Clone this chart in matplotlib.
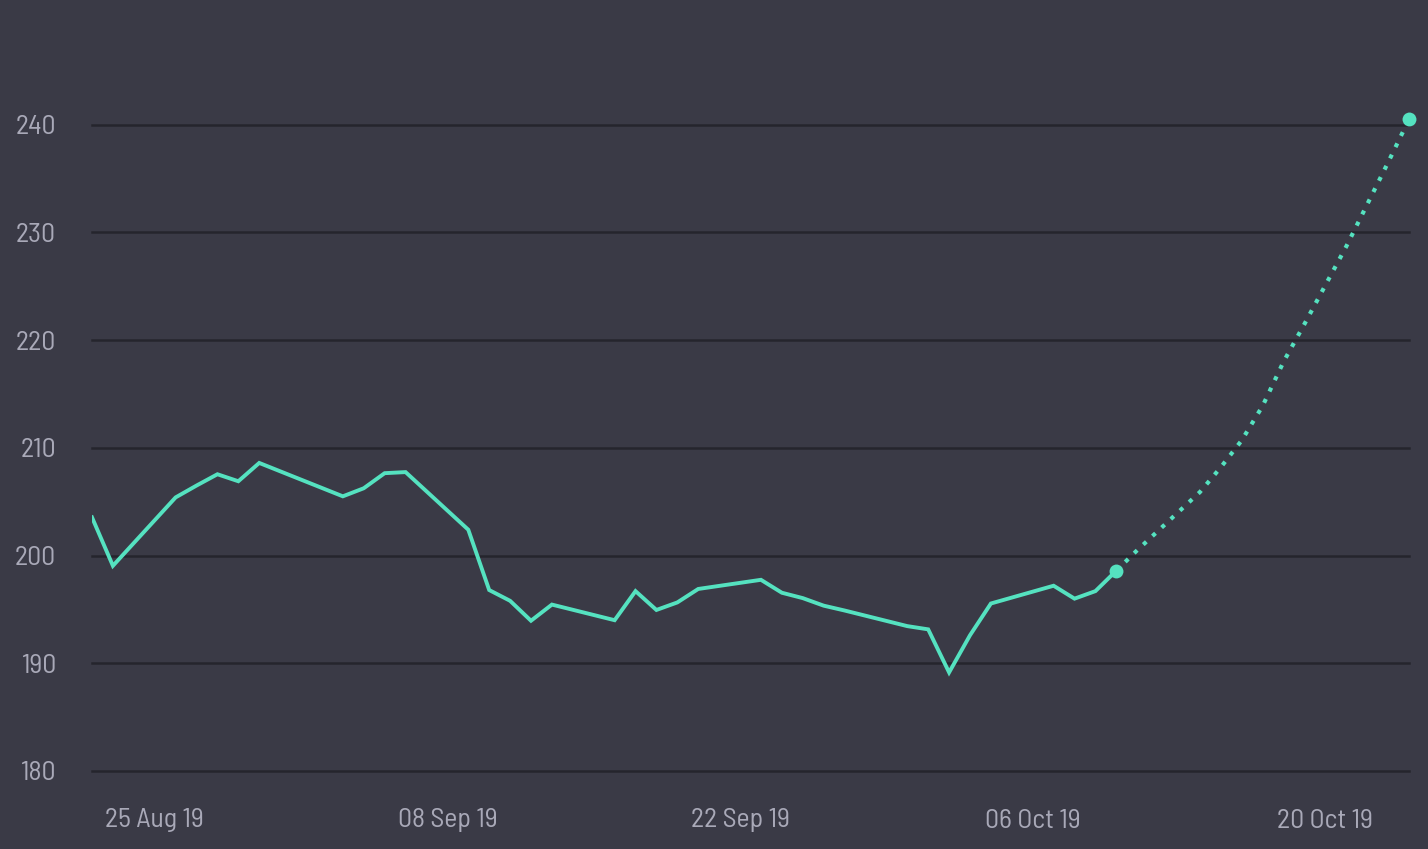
import matplotlib
matplotlib.use("Agg")
import matplotlib.pyplot as plt
import matplotlib.dates as mdates
from matplotlib import font_manager
import pandas as pd

# ---- data ----
hist_dates = ["2019-08-22", "2019-08-23", "2019-08-26", "2019-08-27", "2019-08-28",
              "2019-08-29", "2019-08-30", "2019-09-03", "2019-09-04", "2019-09-05",
              "2019-09-06", "2019-09-09", "2019-09-10", "2019-09-11", "2019-09-12",
              "2019-09-13", "2019-09-16", "2019-09-17", "2019-09-18", "2019-09-19",
              "2019-09-20", "2019-09-23", "2019-09-24", "2019-09-25", "2019-09-26",
              "2019-09-27", "2019-09-30", "2019-10-01", "2019-10-02", "2019-10-03",
              "2019-10-04", "2019-10-07", "2019-10-08", "2019-10-09", "2019-10-10"]
hist_values = [203.55, 199.05, 205.4, 206.5, 207.55,
               206.9, 208.6, 205.5, 206.25, 207.65,
               207.75, 202.4, 196.8, 195.8, 193.95,
               195.45, 194.0, 196.7, 194.95, 195.65,
               196.9, 197.75, 196.55, 196.05, 195.35,
               194.9, 193.45, 193.15, 189.15, 192.6,
               195.55, 197.2, 196.0, 196.7, 198.6]

fc_dates = ["2019-10-10", "2019-10-11", "2019-10-12", "2019-10-13", "2019-10-14",
            "2019-10-15", "2019-10-16", "2019-10-17", "2019-10-18", "2019-10-19",
            "2019-10-20", "2019-10-21", "2019-10-22", "2019-10-23", "2019-10-24"]
fc_values = [198.6, 200.5, 202.3, 204.1, 205.9,
             208.2, 210.7, 213.9, 218.0, 221.5,
             225.1, 228.7, 232.6, 236.5, 240.5]

y_ticks = [180, 190, 200, 210, 220, 230, 240]
x_ticks = ["2019-08-25", "2019-09-08", "2019-09-22", "2019-10-06", "2019-10-20"]

# ---- style ----
BG = "#3a3a46"
GRID = "#25252d"
LINE = "#55e2c0"
TXT = "#a9a9b8"

names = {f.name for f in font_manager.fontManager.ttflist}
family = "DejaVu Sans"
for cand in ["Barlow Semi Condensed", "Roboto Condensed", "Liberation Sans Narrow",
             "Open Sans Condensed", "Roboto"]:
    if cand in names:
        family = cand
        break
plt.rcParams["font.family"] = [family, "DejaVu Sans"]

fig = plt.figure(figsize=(14.28, 8.49), dpi=100, facecolor=BG)
ax = fig.add_axes([92 / 1428, (849 - 771) / 849, (1409 - 92) / 1428, (771 - 17) / 849])
ax.set_facecolor(BG)

hd = pd.to_datetime(hist_dates)
fd = pd.to_datetime(fc_dates)

ax.plot(hd, hist_values, color=LINE, lw=2.8, solid_joinstyle="miter", zorder=3)
ax.plot(fd, fc_values, color=LINE, lw=3, linestyle=(0, (1, 2)),
        dash_capstyle="butt", zorder=3)
ax.plot([fd[0], fd[-1]], [fc_values[0], fc_values[-1]], "o", color=LINE,
        markersize=10, markeredgewidth=0, zorder=4, clip_on=False)

ax.set_xlim(pd.Timestamp("2019-08-22"), pd.Timestamp("2019-10-24"))
ax.set_ylim(180, 250)
ax.set_yticks(y_ticks)
ax.set_xticks(pd.to_datetime(x_ticks))
ax.xaxis.set_major_formatter(mdates.DateFormatter("%d %b %y"))

ax.grid(axis="y", color=GRID, lw=1.8)
for gl in ax.get_ygridlines():
    gl.set_clip_on(False)
ax.set_axisbelow(True)
for s in ax.spines.values():
    s.set_visible(False)
ax.tick_params(axis="both", length=0, colors=TXT, labelsize=20)
ax.tick_params(axis="y", pad=26)
ax.tick_params(axis="x", pad=27)

fig.savefig("out.png", dpi=100, facecolor=BG)
